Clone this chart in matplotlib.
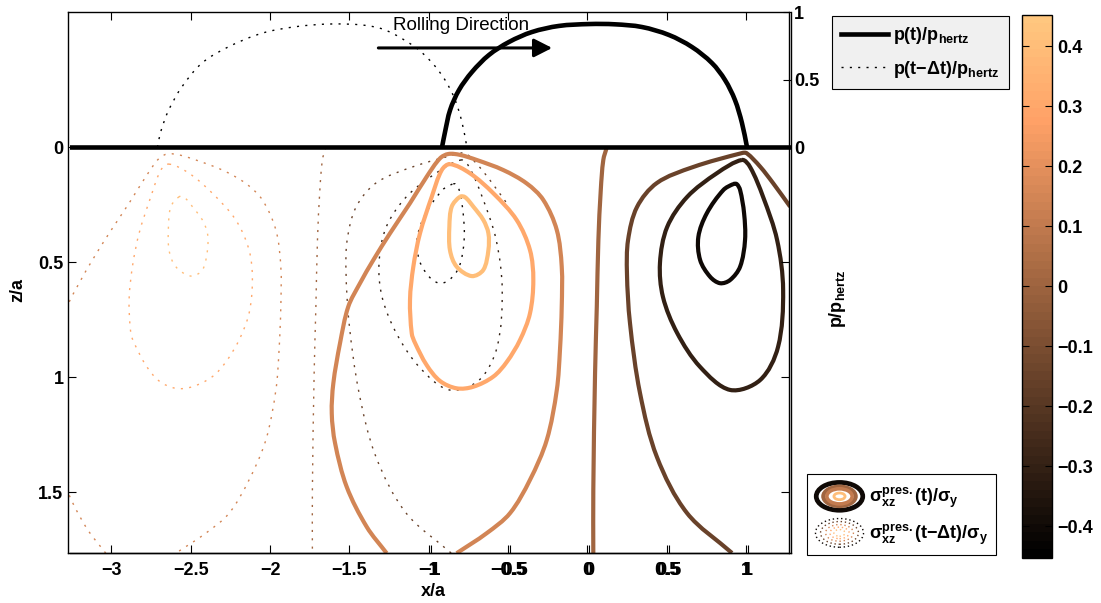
import numpy as np
import matplotlib
matplotlib.use("Agg")
import matplotlib.pyplot as plt
from matplotlib import colors as mcolors
from matplotlib.cm import ScalarMappable
from matplotlib.patches import Ellipse, PathPatch
from matplotlib.path import Path
from matplotlib.legend_handler import HandlerBase
from matplotlib.lines import Line2D
from matplotlib.ticker import FuncFormatter

plt.rcParams.update({
    "font.family": "Liberation Sans",
    "font.weight": "bold",
    "axes.labelweight": "bold",
    "font.size": 13,
    "mathtext.fontset": "custom",
    "mathtext.rm": "Liberation Sans:bold",
    "mathtext.bf": "Liberation Sans:bold",
    "mathtext.it": "Liberation Sans:bold",
    "mathtext.sf": "Liberation Sans:bold",
    "mathtext.tt": "Liberation Mono",
    "mathtext.cal": "Liberation Sans",
    "axes.linewidth": 1.0,
})

# ---------------------------------------------------------------- data
# unloaded surface (x/a, p/p_hertz)
surface_x = [-3.30, 1.30]
surface_p = [0.0, 0.0]

# contact pressure at time t  (x/a, p/p_hertz)
p_now_x = [-0.929, -0.910, -0.878, -0.822, -0.740, -0.633, -0.507, -0.362,
           -0.192, 0.000, 0.161, 0.331, 0.501, 0.646, 0.772, 0.854, 0.917, 0.961,
           0.993]
p_now_p = [0.0, 0.113, 0.276, 0.424, 0.558, 0.684, 0.780, 0.854,
           0.899, 0.913, 0.911, 0.891, 0.832, 0.743, 0.624, 0.499, 0.350, 0.180,
           0.0]

# contact pressure one step earlier, t - dt
p_prev_x = [-2.722, -2.700, -2.651, -2.567, -2.441, -2.273, -2.063, -1.853, -1.643,
            -1.433, -1.287, -1.099, -0.990, -0.910, -0.846, -0.802, -0.772]
p_prev_p = [0.0, 0.120, 0.276, 0.449, 0.624, 0.745, 0.845, 0.893, 0.913,
            0.906, 0.869, 0.743, 0.624, 0.499, 0.350, 0.180, 0.0]

# rolling step between t - dt and t (x/a)
step_dx = -1.77

# iso-lines of sigma_xz / sigma_y at time t (x/a, z/a)
c_p40_x = [-0.803, -0.855, -0.870, -0.866, -0.824, -0.729, -0.656, -0.624, -0.624,
           -0.656, -0.719, -0.771, -0.803]
c_p40_z = [0.215, 0.258, 0.345, 0.448, 0.519, 0.560, 0.533, 0.447, 0.374,
           0.316, 0.258, 0.217, 0.215]

c_p30_x = [-0.866, -0.740, -0.593, -0.446, -0.362, -0.341, -0.362, -0.425, -0.508,
           -0.593, -0.719, -0.824, -0.929, -1.013, -1.086, -1.107, -1.118, -1.097,
           -1.055, -0.981, -0.918, -0.866]
c_p30_z = [0.073, 0.113, 0.200, 0.316, 0.447, 0.577, 0.722, 0.838, 0.933,
           0.997, 1.041, 1.048, 1.016, 0.947, 0.851, 0.809, 0.664, 0.519,
           0.374, 0.215, 0.099, 0.073]

c_p15_x = [-1.265, -1.391, -1.517, -1.590, -1.611, -1.601, -1.559, -1.507, -1.433,
           -1.349, -1.244, -1.118, -1.013, -0.929, -0.876, -0.803, -0.698, -0.530,
           -0.383, -0.278, -0.193, -0.162, -0.162, -0.173, -0.193, -0.256, -0.362,
           -0.488, -0.635, -0.824]
c_p15_z = [1.765, 1.650, 1.476, 1.287, 1.157, 1.026, 0.852, 0.693, 0.591,
           0.490, 0.374, 0.243, 0.128, 0.048, 0.029, 0.033, 0.055, 0.099,
           0.157, 0.229, 0.360, 0.519, 0.693, 0.880, 1.055, 1.272, 1.446,
           1.591, 1.678, 1.765]

c_00_x = [0.122, 0.100, 0.084, 0.069, 0.059, 0.048, 0.037, 0.037]
c_00_z = [0.000, 0.055, 0.186, 0.403, 0.693, 0.983, 1.490, 1.765]

c_m15_x = [0.911, 0.627, 0.438, 0.331, 0.268, 0.249, 0.256, 0.312, 0.438,
           0.665, 0.974, 1.004, 1.088, 1.171, 1.277]
c_m15_z = [1.764, 1.590, 1.347, 1.068, 0.764, 0.547, 0.403, 0.260, 0.155,
           0.086, 0.025, 0.026, 0.084, 0.157, 0.258]

c_m30_x = [0.974, 0.817, 0.628, 0.502, 0.457, 0.476, 0.565, 0.710, 0.899,
           1.088, 1.201, 1.233, 1.195, 1.107, 1.025, 0.974]
c_m30_z = [0.055, 0.112, 0.216, 0.347, 0.503, 0.651, 0.807, 0.955, 1.055,
           1.012, 0.868, 0.620, 0.403, 0.216, 0.086, 0.055]

c_m40_x = [0.919, 0.856, 0.752, 0.699, 0.710, 0.773, 0.836, 0.899, 0.962,
           0.993, 0.987, 0.962, 0.941, 0.919]
c_m40_z = [0.160, 0.186, 0.287, 0.389, 0.490, 0.563, 0.591, 0.577, 0.519,
           0.403, 0.287, 0.186, 0.160, 0.160]

iso_lines = [
    (0.40, c_p40_x, c_p40_z),
    (0.30, c_p30_x, c_p30_z),
    (0.15, c_p15_x, c_p15_z),
    (0.00, c_00_x, c_00_z),
    (-0.15, c_m15_x, c_m15_z),
    (-0.30, c_m30_x, c_m30_z),
    (-0.40, c_m40_x, c_m40_z),
]

cbar_ticks = [-0.4, -0.3, -0.2, -0.1, 0.0, 0.1, 0.2, 0.3, 0.4]
x_ticks = [-3, -2.5, -2, -1.5, -1, -0.5, 0, 0.5, 1]
x_ticks_p = [-1, -0.5, 0, 0.5, 1]
z_ticks = [0, 0.5, 1, 1.5]
p_ticks = [0, 0.5, 1]


# ---------------------------------------------------------------- helpers
def smooth_path(xs, ys, sx, sy):
    """Cubic Hermite path through the given points (chord-length tangents)."""
    P = np.column_stack([xs, ys]).astype(float)
    closed = np.allclose(P[0], P[-1])
    if closed:
        P = P[:-1]
    n = len(P)
    S = P * [sx, sy]

    def k(i):
        return i % n if closed else min(max(i, 0), n - 1)

    def dist(i, j):
        return float(np.hypot(*(S[k(j)] - S[k(i)])))

    tang = []
    for i in range(n):
        if not closed and i == 0:
            m = (P[1] - P[0]) / dist(0, 1)
        elif not closed and i == n - 1:
            m = (P[n - 1] - P[n - 2]) / dist(n - 2, n - 1)
        else:
            m = (P[k(i + 1)] - P[k(i - 1)]) / (dist(i - 1, i) + dist(i, i + 1))
        tang.append(m)
    verts = [P[0]]
    codes = [Path.MOVETO]
    for i in range(n if closed else n - 1):
        j = k(i + 1)
        h = dist(i, i + 1)
        verts += [P[i] + tang[i] * h / 3, P[j] - tang[j] * h / 3, P[j]]
        codes += [Path.CURVE4] * 3
    return Path(verts, codes)


# ---------------------------------------------------------------- styling
cmap = plt.get_cmap("copper", 64)
norm = mcolors.Normalize(vmin=-0.452, vmax=0.452)
dot_style = (0, (1.5, 4.5))
fmt = FuncFormatter(lambda v, _: f"{v:g}".replace("-", "\u2212"))

W_PX, H_PX = 1101, 603
fig = plt.figure(figsize=(W_PX / 100, H_PX / 100), dpi=100)

left, right, top, bottom = 68.3, 789.0, 12.3, 553.0
rect = [left / W_PX, 1 - bottom / H_PX, (right - left) / W_PX, (bottom - top) / H_PX]
ax = fig.add_axes(rect)
ax2 = fig.add_axes([rect[0] + 2 / W_PX] + rect[1:])
ax2.patch.set_visible(False)

ax.set_xlim(-3.271, 1.270)
ax.set_ylim(1.764, -0.587)
ax2.set_xlim(-3.271, 1.270)
ax2.set_ylim(-3.005, 1.0)

SX, SZ, SP = 158.7, 230.0, 135.0   # px per unit on x, z and p

# stress iso-lines: previous step dotted, current step solid
for lvl, xs, zs in iso_lines:
    ax.add_patch(PathPatch(smooth_path([x + step_dx for x in xs], zs, SX, SZ),
                           fill=False, edgecolor=cmap(norm(lvl)), lw=1.0,
                           ls=dot_style))
for lvl, xs, zs in iso_lines:
    ax.add_patch(PathPatch(smooth_path(xs, zs, SX, SZ), fill=False,
                           edgecolor=cmap(norm(lvl)), lw=3.0, joinstyle="round",
                           capstyle="butt"))

# pressure profiles
ax2.add_patch(PathPatch(smooth_path(p_prev_x, p_prev_p, SX, SP), fill=False,
                        edgecolor="k", lw=1.0, ls=dot_style))
ax2.plot(surface_x, surface_p, color="k", lw=3.3, solid_capstyle="butt")
ax2.add_patch(PathPatch(smooth_path(p_now_x, p_now_p, SX, SP), fill=False,
                        edgecolor="k", lw=3.3, joinstyle="round"))

# rolling direction
ax2.annotate("", xy=(-0.235, 0.736), xytext=(-1.33, 0.736),
             arrowprops=dict(arrowstyle="-|>,head_length=0.55,head_width=0.28",
                             lw=2.2, color="k", mutation_scale=20,
                             shrinkA=0, shrinkB=0))
ax2.text(-0.81, 0.905, "Rolling Direction", ha="center", va="center",
         fontsize=13.5, fontweight="normal")

# axes, ticks, labels
ax.set_xticks(x_ticks)
ax.set_yticks(z_ticks)
ax.xaxis.set_major_formatter(fmt)
ax.yaxis.set_major_formatter(fmt)
ax.tick_params(direction="in", top=True, right=True, length=5.5, width=0.8,
               labelsize=13)
ax.tick_params(axis="x", pad=6.5)
ax.tick_params(axis="y", pad=3.5)

ax2.set_xticks(x_ticks_p)
ax2.set_yticks(p_ticks)
ax2.xaxis.set_major_formatter(fmt)
ax2.yaxis.set_major_formatter(fmt)
ax2.tick_params(axis="x", direction="in", bottom=True, top=False, labelbottom=True,
                length=5.5, width=0.8, labelsize=13, pad=6.5)
ax2.tick_params(axis="y", direction="in", left=False, right=True, labelleft=False,
                labelright=True, length=5.5, width=0.8, labelsize=13, pad=2)
ax2.spines["left"].set_visible(False)
ax2.spines["top"].set_visible(False)

ax.set_xlabel("x/a", fontsize=13, fontweight="bold")
ax.xaxis.set_label_coords(0.506, -0.056)
ax.set_ylabel("z/a", fontsize=13, fontweight="bold")
ax.yaxis.set_label_coords(-0.058, 0.486)
ax2.yaxis.set_label_position("right")
ax2.set_ylabel("p/p$_{\\mathrm{hertz}}$", fontsize=13, fontweight="bold",
               rotation=90)
ax2.yaxis.set_label_coords(1.050, 0.470)

# colorbar
cax = fig.add_axes([1022 / W_PX, 1 - 557.7 / H_PX, 30 / W_PX, 542.7 / H_PX])
cb = fig.colorbar(ScalarMappable(norm=norm, cmap=cmap), cax=cax, ticks=cbar_ticks)
cb.ax.yaxis.set_major_formatter(fmt)
cb.ax.tick_params(direction="in", left=True, right=True, length=5, width=0.8,
                  labelsize=13, pad=3.5)
cb.outline.set_linewidth(1.0)

for a in (ax, ax2, cb.ax):
    for lbl in a.get_xticklabels() + a.get_yticklabels():
        lbl.set_fontweight("bold")

# pressure legend
h_now = Line2D([], [], color="k", lw=3.3)
h_prev = Line2D([], [], color="k", lw=1.0, ls=dot_style)
leg1 = fig.legend([h_now, h_prev],
                  ["p(t)/p$_{\\mathrm{hertz}}$", "p(t\u2212\u0394t)/p$_{\\mathrm{hertz}}$"],
                  loc="upper left", bbox_to_anchor=(832 / W_PX, 1 - 16 / H_PX),
                  bbox_transform=fig.transFigure, borderaxespad=0, fancybox=False,
                  edgecolor="k", facecolor="#f0f0f0", framealpha=1,
                  handlelength=2.6, handletextpad=0.3, labelspacing=0.7,
                  borderpad=0.5, prop={"size": 13, "weight": "bold"})
leg1.get_frame().set_linewidth(0.8)


class RingsHandler(HandlerBase):
    """Concentric ellipses coloured like the iso-lines."""

    def __init__(self, rings, ls):
        super().__init__()
        self.rings = rings
        self.ls = ls

    def create_artists(self, legend, orig_handle, xdescent, ydescent, width,
                       height, fontsize, trans):
        cx = width / 2 - xdescent
        cy = height / 2 - ydescent
        out = []
        for lvl, scale, lw in self.rings:
            out.append(Ellipse((cx, cy), width * scale, height * scale, fill=False,
                               edgecolor=cmap(norm(lvl)), lw=lw, ls=self.ls,
                               transform=trans))
        return out


h_sig_now = Line2D([], [])
h_sig_prev = Line2D([], [])
rings_now = [(-0.40, 0.92, 3.4), (0.00, 0.64, 3.0), (0.10, 0.50, 2.6),
             (0.40, 0.22, 2.0)]
rings_prev = [(-0.40, 0.95, 1.0), (-0.15, 0.75, 1.0), (0.15, 0.55, 1.0),
              (0.30, 0.38, 1.0), (0.40, 0.22, 1.0)]
leg2 = fig.legend([h_sig_now, h_sig_prev],
                  ["\u03c3$^{\\mathrm{pres.}}_{\\mathrm{xz}}$(t)/\u03c3$_{\\mathrm{y}}$",
                   "\u03c3$^{\\mathrm{pres.}}_{\\mathrm{xz}}$(t\u2212\u0394t)/\u03c3$_{\\mathrm{y}}$"],
                  handler_map={h_sig_now: RingsHandler(rings_now, "-"),
                               h_sig_prev: RingsHandler(rings_prev, (0, (1, 2)))},
                  loc="upper left", bbox_to_anchor=(807 / W_PX, 1 - 474 / H_PX),
                  bbox_transform=fig.transFigure, borderaxespad=0, fancybox=False,
                  edgecolor="k", facecolor="white", framealpha=1,
                  handlelength=2.8, handleheight=2.2, handletextpad=0.25,
                  labelspacing=0.35, borderpad=0.4,
                  prop={"size": 13, "weight": "bold"})
leg2.get_frame().set_linewidth(0.8)

fig.savefig("out.png", dpi=100)
